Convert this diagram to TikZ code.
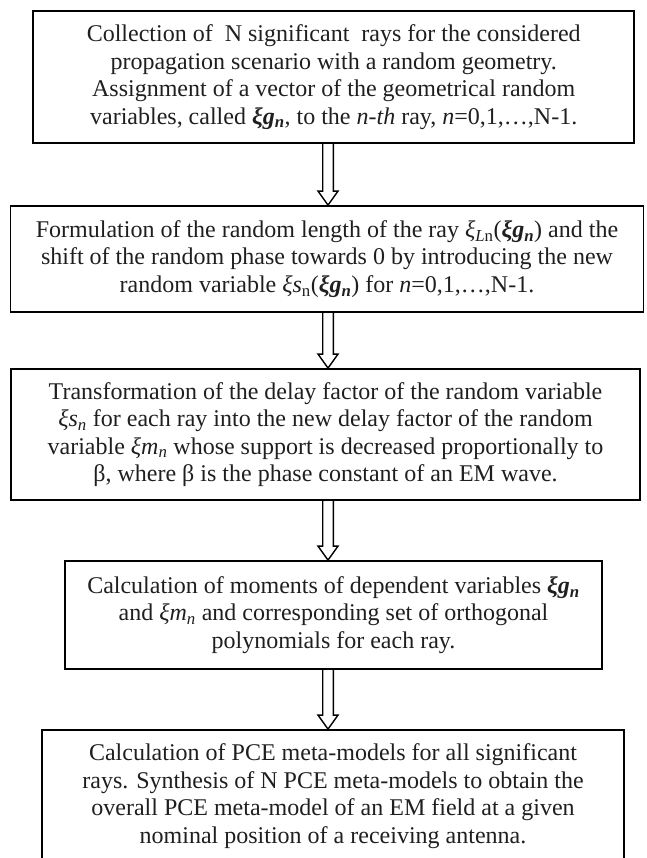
\documentclass[tikz,border=0pt]{standalone}
\usepackage{fontspec}
\setmainfont{Liberation Serif}
\usetikzlibrary{calc}
\definecolor{ink}{gray}{0.12}
\newcommand{\xgn}{\textbf{\textit{ξg}}\textsubscript{\textbf{\textit{n}}}}
\newcommand{\xmn}{\textit{ξm}\textsubscript{\textit{n}}}
\newcommand{\xsn}{\textit{ξs}\textsubscript{n}}
\newcommand{\xsni}{\textit{ξs}\textsubscript{\textit{n}}}
\newcommand{\xLn}{\textit{ξ}\textsubscript{\textit{L}n}}
\newcommand{\arrx}{328pt}
\newcommand{\hollowarrow}[2]{%
  \draw[harrow] let \p1=(#1.south), \p2=(#2.north) in
    (\arrx-5.3pt,\y1) -- (\arrx-5.3pt,\y2+14pt) -- (\arrx-10pt,\y2+14pt) -- (\arrx,\y2)
    -- (\arrx+10pt,\y2+14pt) -- (\arrx+5.3pt,\y2+14pt) -- (\arrx+5.3pt,\y1);}
\tikzset{
  box/.style={draw=black, text=ink, line width=1.8pt, inner sep=0pt, align=center,
    font=\fontsize{24}{27.5}\selectfont},
  harrow/.style={draw=black, line width=1.4pt, line join=miter}
}
\begin{document}
\begin{tikzpicture}[x=1pt,y=1pt]
\useasboundingbox (0,0) rectangle (646,-858);
\node[box, minimum width=601pt, minimum height=132pt] (b1) at (333.7,-77)
 {Collection of \ N significant \ rays for the considered\\
  propagation scenario with a random geometry.\\
  Assignment of a vector of the geometrical random\\
  variables, called \xgn, to the \textit{n-th} ray, \textit{n}=0,1,…,N-1.};
\node[box, minimum width=633pt, minimum height=106pt] (b2) at (327,-259)
 {Formulation of the random length of the ray \xLn(\xgn) and the\\
  shift of the random phase towards 0 by introducing the new\\
  random variable \xsn(\xgn) for \textit{n}=0,1,…,N-1.};
\node[box, minimum width=629pt, minimum height=131pt] (b3) at (325.5,-434.5)
 {Transformation of the delay factor of the random variable\\
  \xsni{} for each ray into the new delay factor of the random\\
  variable \xmn{} whose support is decreased proportionally to\\
  β, where β is the phase constant of an EM wave.};
\node[box, minimum width=537pt, minimum height=108pt] (b4) at (333.5,-615)
 {Calculation of moments of dependent variables \xgn\\
  and \xmn{} and corresponding set of orthogonal\\
  polynomials for each ray.};
\node[box, minimum width=582pt, minimum height=132pt] (b5) at (333,-796)
 {Calculation of PCE meta-models for all significant\\
  rays. Synthesis of N PCE meta-models to obtain the\\
  overall PCE meta-model of an EM field at a given\\
  nominal position of a receiving antenna.};
\hollowarrow{b1}{b2}
\hollowarrow{b2}{b3}
\hollowarrow{b3}{b4}
\hollowarrow{b4}{b5}
\end{tikzpicture}
\end{document}
